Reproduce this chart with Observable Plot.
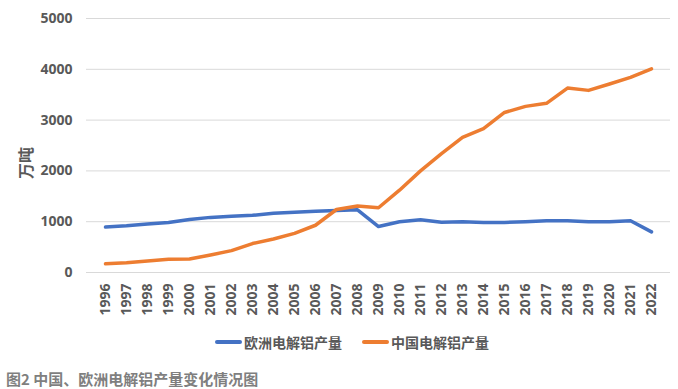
<!DOCTYPE html>
<html>
<head>
<meta charset="utf-8">
<script src="https://cdn.jsdelivr.net/npm/d3@7"></script>
<script src="https://cdn.jsdelivr.net/npm/@observablehq/plot@0.6"></script>
<style>
  body { margin: 0; background: #fff; font-family: "Noto Sans CJK SC", "Open Sans", sans-serif; }
  #wrap { width: 678px; height: 389px; position: relative; overflow: hidden; }
  .legend { position: absolute; top: 332px; left: 0; width: 678px; height: 20px; font-size: 14px; font-weight: bold; color: #595959; }
  .legend .item { position: absolute; top: 0; display: flex; align-items: center; height: 20px; }
  .legend .sw { width: 27px; height: 3.5px; border-radius: 2px; margin-right: 2px; }
  .caption { position: absolute; left: 6px; top: 368px; font-size: 15px; font-weight: bold; color: #7f7f7f; white-space: nowrap; }
  .ylabel { position: absolute; left: 25px; top: 163px; transform: translate(-50%, -50%) rotate(-90deg); font-size: 16px; font-weight: bold; color: #595959; white-space: nowrap; line-height: 1; }
</style>
</head>
<body>
<div id="wrap">
  <div id="chart"></div>
  <div class="ylabel">万吨</div>
  <div class="legend">
    <div class="item" style="left:215px"><span class="sw" style="background:#4472C4"></span>欧洲电解铝产量</div>
    <div class="item" style="left:362px"><span class="sw" style="background:#ED7D31"></span>中国电解铝产量</div>
  </div>
  <div class="caption">图2 中国、欧洲电解铝产量变化情况图</div>
</div>
<script>
const years = ["1996","1997","1998","1999","2000","2001","2002","2003","2004","2005","2006","2007","2008","2009","2010","2011","2012","2013","2014","2015","2016","2017","2018","2019","2020","2021","2022"];
const europe = [895, 920, 955, 985, 1045, 1085, 1105, 1125, 1165, 1185, 1205, 1220, 1235, 905, 1000, 1040, 990, 1000, 985, 985, 1000, 1020, 1020, 1000, 1000, 1020, 800];
const china  = [170, 190, 225, 260, 265, 345, 430, 570, 660, 770, 930, 1240, 1310, 1275, 1620, 2000, 2340, 2660, 2830, 3150, 3270, 3330, 3630, 3585, 3710, 3840, 4010];
const seriesNames = ["欧洲电解铝产量", "中国电解铝产量"];
const yTicks = [0, 1000, 2000, 3000, 4000, 5000];
const colors = ["#4472C4", "#ED7D31"];

const data = [];
years.forEach((y, i) => {
  data.push({year: y, value: europe[i], series: seriesNames[0]});
});
years.forEach((y, i) => {
  data.push({year: y, value: china[i], series: seriesNames[1]});
});

const chart = Plot.plot({
  width: 678,
  height: 330,
  marginTop: 18,
  marginBottom: 58,
  marginLeft: 86,
  marginRight: 8,
  style: {fontFamily: "'Open Sans', 'Noto Sans CJK SC', sans-serif", fontSize: "14px", fontWeight: "bold", color: "#595959", background: "#fff"},
  x: {type: "point", domain: years, padding: 0.5},
  y: {domain: [0, 5000]},
  color: {domain: seriesNames, range: colors},
  marks: [
    Plot.gridY(yTicks, {stroke: "#d9d9d9", strokeOpacity: 1, strokeWidth: 1}),
    Plot.axisY(yTicks, {tickSize: 0, tickPadding: 14, label: null, fill: "#595959", fontSize: 14, fontWeight: "bold", tickFormat: d => String(d)}),
    Plot.axisX({tickSize: 0, tickRotate: -90, tickPadding: 11, label: null, fill: "#595959", fontSize: 14, fontWeight: "bold"}),
    Plot.line(data, {x: "year", y: "value", z: "series", stroke: "series", strokeWidth: 3.5, strokeLinejoin: "round", strokeLinecap: "round"})
  ]
});
document.getElementById("chart").appendChild(chart);
</script>
</body>
</html>
